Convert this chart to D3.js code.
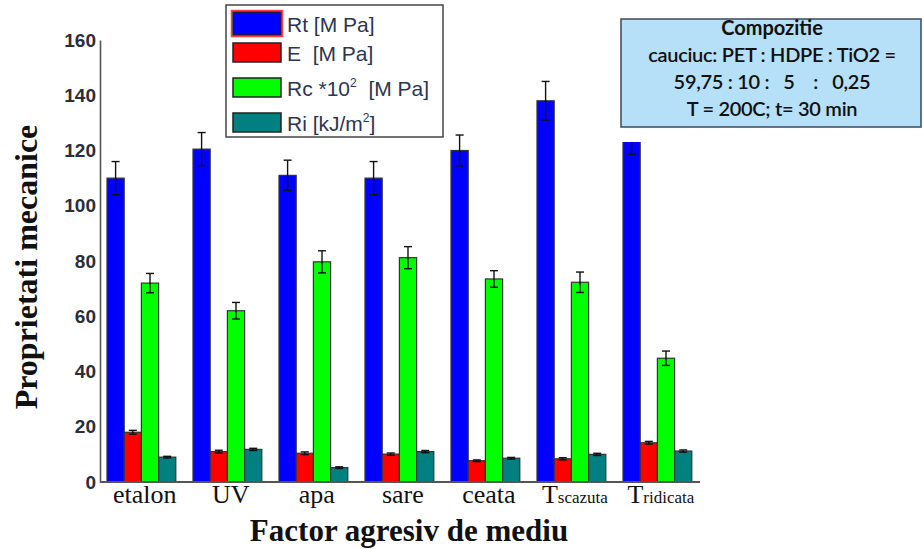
<!DOCTYPE html>
<html>
<head>
<meta charset="utf-8">
<script src="https://cdn.jsdelivr.net/npm/d3@7"></script>
<style>
	body { margin: 0; background: #fff; }
	svg { display: block; }
</style>
</head>
<body>
<div id="chart"></div>
<script>
// Data
const categories = ["etalon", "UV", "apa", "sare", "ceata", "Tscazuta", "Tridicata"];
const labelMain = ["etalon", "UV", "apa", "sare", "ceata", "T", "T"];
const labelSub = ["", "", "", "", "", "scazuta", "ridicata"];
const seriesNames = ["Rt", "E", "Rc", "Ri"];
const Rt = [110, 120.5, 111, 110, 120, 138, 124.6];
const RtErr = [6, 6, 5.5, 6, 5.6, 7, 6];
const E = [18, 11, 10.4, 10.1, 7.7, 8.4, 14.2];
const EErr = [0.7, 0.5, 0.5, 0.4, 0.3, 0.4, 0.5];
const Rc = [72, 62, 79.7, 81.2, 73.5, 72.3, 44.8];
const RcErr = [3.5, 3, 4, 4, 3, 3.7, 2.6];
const Ri = [9, 11.8, 5.2, 11, 8.6, 10, 11.2];
const RiErr = [0.3, 0.4, 0.3, 0.4, 0.3, 0.4, 0.4];
const yTicks = [0, 20, 40, 60, 80, 100, 120, 140, 160];

const values = { Rt, E, Rc, Ri };
const errors = { Rt: RtErr, E: EErr, Rc: RcErr, Ri: RiErr };
const colors = { Rt: "#0000ff", E: "#ff0000", Rc: "#00ff00", Ri: "#008080" };

const width = 924, height = 549;
const svg = d3.select("#chart").append("svg")
	.attr("width", width).attr("height", height);

// Scales
const x = d3.scaleBand(categories, [107, 709]).padding(0);
const slot = x.bandwidth() / 5;
const xs = d3.scaleBand(seriesNames, [0, slot * 4]).padding(0);
const y = d3.scaleLinear([0, 160], [482, 40]);

// rows: one per bar
const rows = [];
categories.forEach((c, i) => seriesNames.forEach(s => {
	rows.push({ cat: c, s: s, v: values[s][i], e: errors[s][i] });
}));

const plot = svg.append("g");

plot.selectAll("rect.bar")
	.data(rows)
	.join("rect")
	.classed("bar", true)
	.attr("x", d => x(d.cat) + xs(d.s))
	.attr("y", d => y(d.v))
	.attr("width", xs.bandwidth())
	.attr("height", d => y(0) - y(d.v))
	.attr("fill", d => colors[d.s])
	.attr("stroke", "#333")
	.attr("stroke-width", 1.2);

// Error bars
const err = plot.selectAll("g.err")
	.data(rows)
	.join("g")
	.classed("err", true)
	.attr("transform", d => `translate(${x(d.cat) + xs(d.s) + xs.bandwidth() / 2},0)`)
	.attr("stroke", "#111")
	.attr("stroke-width", 1.4);
err.append("line")
	.attr("y1", d => y(d.v + d.e)).attr("y2", d => y(d.v - d.e));
err.append("line")
	.attr("x1", -4).attr("x2", 4)
	.attr("y1", d => y(d.v + d.e)).attr("y2", d => y(d.v + d.e));
err.append("line")
	.attr("x1", -4).attr("x2", 4)
	.attr("y1", d => y(d.v - d.e)).attr("y2", d => y(d.v - d.e));

// Y axis
const axisY = svg.append("g")
	.attr("transform", "translate(100,0)")
	.call(d3.axisLeft(y).tickValues(yTicks).tickSize(0).tickPadding(4));
axisY.select(".domain").attr("stroke", "#555").attr("stroke-width", 1.6);
axisY.selectAll("text")
	.attr("font-family", "Liberation Sans, Arial, sans-serif")
	.attr("font-weight", "bold")
	.attr("font-size", 19)
	.attr("fill", "#2a2e3a");

// X axis line
svg.append("line")
	.attr("x1", 100).attr("x2", 700)
	.attr("y1", y(0)).attr("y2", y(0))
	.attr("stroke", "#555").attr("stroke-width", 1.8);

// X labels
const xl = svg.append("g").selectAll("text")
	.data(categories)
	.join("text")
	.attr("x", (d) => x(d) + slot * 2.2)
	.attr("y", 503)
	.attr("text-anchor", "middle")
	.attr("font-family", "Liberation Serif, Times New Roman, serif")
	.attr("font-size", 26)
	.attr("fill", "#111");
xl.append("tspan").text((d, i) => labelMain[i]);
xl.append("tspan").attr("font-size", 17).text((d, i) => labelSub[i]);

// Axis titles
svg.append("text")
	.attr("x", 409).attr("y", 541)
	.attr("text-anchor", "middle")
	.attr("font-family", "Liberation Serif, Times New Roman, serif")
	.attr("font-weight", "bold")
	.attr("font-size", 31)
	.attr("fill", "#111")
	.text("Factor agresiv de mediu");

svg.append("text")
	.attr("transform", "translate(37,267) rotate(-90)")
	.attr("text-anchor", "middle")
	.attr("font-family", "Liberation Serif, Times New Roman, serif")
	.attr("font-weight", "bold")
	.attr("font-size", 32)
	.attr("fill", "#111")
	.text("Proprietati mecanice");

// Legend
const legend = svg.append("g");
legend.append("rect")
	.attr("x", 226).attr("y", 5).attr("width", 217).attr("height", 132)
	.attr("fill", "#fff").attr("stroke", "#444").attr("stroke-width", 1.5);
const legendY = [12, 43, 78, 113];
const legendLabels = [
	[["Rt [M Pa]", false]],
	[["E  [M Pa]", false]],
	[["Rc *10", false], ["2", true], ["  [M Pa]", false]],
	[["Ri [kJ/m", false], ["2", true], ["]", false]]
];
seriesNames.forEach((s, i) => {
	const g = legend.append("g").attr("transform", `translate(233,${legendY[i]})`);
	if (i === 0) {
		g.append("rect").attr("x", -1.5).attr("y", -1.5).attr("width", 51).attr("height", 26)
			.attr("fill", "none").attr("stroke", "#ff4040").attr("stroke-width", 1.5);
	}
	g.append("rect").attr("width", 48).attr("height", i === 0 ? 23 : 19)
		.attr("fill", colors[s]).attr("stroke", "#222").attr("stroke-width", 1.5);
	const t = g.append("text")
		.attr("x", 54).attr("y", i === 0 ? 20 : 18)
		.attr("font-family", "Liberation Sans, Arial, sans-serif")
		.attr("font-size", 21)
		.attr("fill", "#2b3550")
		.style("white-space", "pre");
	legendLabels[i].forEach(([txt, sup]) => {
		const ts = t.append("tspan").text(txt);
		if (sup) ts.attr("font-size", 12).attr("dy", -9);
		else if (t.selectAll("tspan").size() > 1) ts.attr("dy", 9);
	});
});

// Annotation box (white margin, then blue box)
svg.append("rect")
	.attr("x", 615).attr("y", 12).attr("width", 309).attr("height", 130)
	.attr("fill", "#fff");
svg.append("rect")
	.attr("x", 621).attr("y", 19).attr("width", 300).attr("height", 108)
	.attr("fill", "#b6dff8").attr("stroke", "#3a4a5a").attr("stroke-width", 1.5);
const boxLines = ["Compozitie", "cauciuc: PET : HDPE : TiO2 =", "59,75 : 10 :   5    :   0,25", "T = 200C; t= 30 min"];
svg.append("g").selectAll("text")
	.data(boxLines)
	.join("text")
	.attr("x", 772)
	.attr("y", (d, i) => 35 + i * 27)
	.attr("text-anchor", "middle")
	.attr("font-family", "Lato, sans-serif")
	.attr("font-weight", (d, i) => i === 0 ? "bold" : "600")
	.attr("font-size", 20)
	.attr("letter-spacing", (d, i) => i === 0 ? 0 : -0.3)
	.attr("fill", "#111")
	.style("white-space", "pre")
	.text(d => d);
</script>
</body>
</html>
